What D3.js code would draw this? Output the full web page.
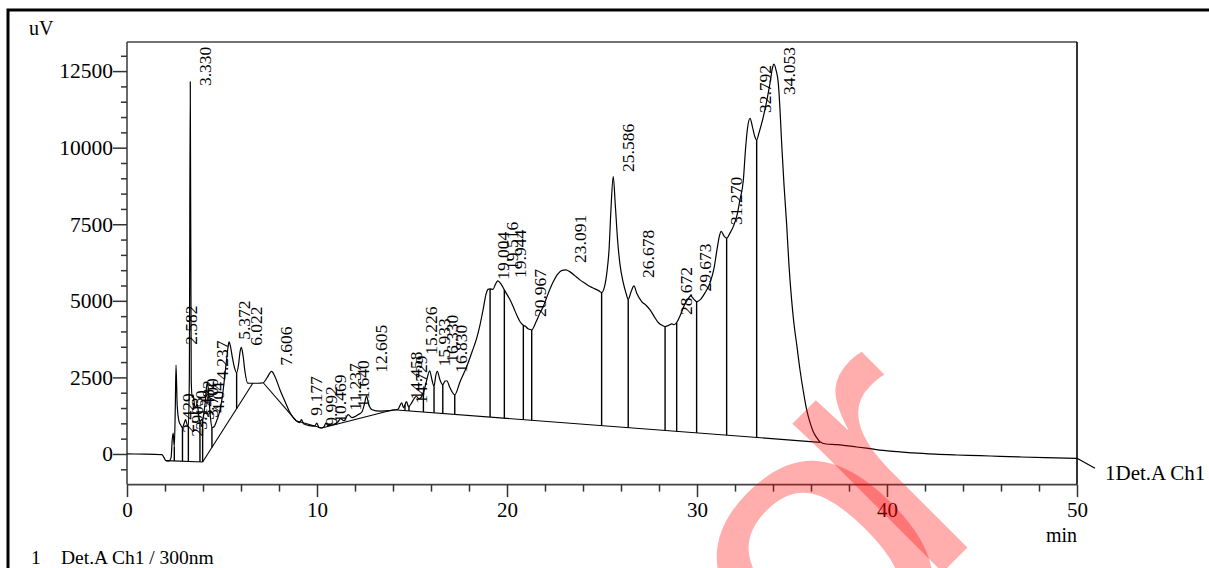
<!DOCTYPE html>
<html>
<head>
<meta charset="utf-8">
<script src="https://cdn.jsdelivr.net/npm/d3@7"></script>
<style>
html, body { margin: 0; padding: 0; background: #fff; }
svg { display: block; font-family: "Liberation Serif", "Times New Roman", serif; }
</style>
</head>
<body>
<svg id="chart" width="1209" height="568"></svg>
<script>
// --- Chromatogram trace (min, uV) ---
const timeMin = [
  0, 0.95, 1.84, 1.95, 2.05, 2.21, 2.32, 2.38, 2.43, 2.49,
  2.54, 2.58, 2.64, 2.74, 2.82, 2.92, 3.00, 3.08, 3.17, 3.23,
  3.28, 3.33, 3.38, 3.43, 3.48, 3.58, 3.70, 3.79, 3.84, 3.92,
  3.98, 4.04, 4.12, 4.18, 4.24, 4.30, 4.38, 4.47, 4.58, 4.74,
  4.90, 5.05, 5.21, 5.32, 5.37, 5.45, 5.55, 5.66, 5.77, 5.87,
  5.95, 6.02, 6.11, 6.21, 6.35, 6.58, 6.90, 7.17, 7.37, 7.61,
  7.79, 8.05, 8.32, 8.58, 8.90, 9.08, 9.18, 9.29, 9.63, 9.87,
  9.99, 10.11, 10.25, 10.37, 10.47, 10.58, 10.84, 11.11, 11.24, 11.42,
  11.64, 11.84, 12.16, 12.37, 12.50, 12.61, 12.71, 12.90, 13.32, 13.84,
  14.26, 14.46, 14.55, 14.71, 14.82, 14.95, 15.11, 15.23, 15.37, 15.60,
  15.74, 15.93, 16.05, 16.16, 16.25, 16.33, 16.47, 16.62, 16.73, 16.83,
  17.00, 17.25, 17.53, 17.88, 18.16, 18.41, 18.58, 18.75, 18.90, 19.00,
  19.11, 19.26, 19.40, 19.52, 19.68, 19.86, 19.95, 20.16, 20.33, 20.53,
  20.68, 20.86, 20.97, 21.11, 21.30, 21.53, 21.74, 21.91, 22.16, 22.44,
  22.68, 22.90, 23.09, 23.32, 23.58, 23.84, 24.11, 24.37, 24.63, 24.84,
  24.98, 25.13, 25.26, 25.37, 25.47, 25.59, 25.70, 25.82, 25.95, 26.11,
  26.26, 26.38, 26.53, 26.68, 26.84, 27.09, 27.32, 27.53, 27.74, 27.96,
  28.16, 28.32, 28.50, 28.67, 28.79, 28.93, 29.11, 29.32, 29.53, 29.67,
  29.82, 29.98, 30.16, 30.42, 30.68, 30.90, 31.05, 31.18, 31.27, 31.42,
  31.56, 31.74, 31.91, 32.11, 32.26, 32.44, 32.55, 32.66, 32.79, 32.92,
  33.05, 33.14, 33.26, 33.49, 33.68, 33.84, 33.97, 34.05, 34.16, 34.28,
  34.37, 34.46, 34.58, 34.72, 34.84, 34.98, 35.11, 35.25, 35.42, 35.60,
  35.77, 35.95, 36.12, 36.30, 36.47, 36.79, 37.35, 37.84, 38.41, 39.11,
  39.81, 40.58, 41.38, 42.53, 43.67, 44.89, 45.95, 47.00, 48.32, 50.00
];
const signalUV = [
  0, -5, -23, -121, -218, -228, -121, 466, 678, 238,
  1445, 2900, 1608, 1053, 955, 858, 988, 1119, 955, 890,
  2423, 12151, 2423, 1836, 1934, 1510, 1608, 1184, 1053, 1119,
  1086, 1314, 1706, 2162, 2325, 1934, 1282, 858, 890, 1119,
  1445, 2032, 2912, 3499, 3662, 3499, 3140, 2814, 2651, 2912,
  3336, 3483, 3206, 2684, 2315, 2309, 2309, 2325, 2488, 2694,
  2521, 2097, 1706, 1347, 1086, 1021, 1119, 988, 923, 907,
  1004, 858, 848, 890, 1004, 923, 955, 1053, 1151, 1086,
  1282, 1184, 1282, 1379, 1640, 1901, 1640, 1445, 1396, 1412,
  1461, 1673, 1510, 1706, 1542, 1640, 1803, 1885, 1803, 1999,
  2325, 2716, 2423, 2204, 2553, 2694, 2423, 2260, 2374, 2390,
  2162, 1934, 2358, 2857, 3336, 3793, 4217, 4738, 5227, 5374,
  5390, 5374, 5553, 5651, 5553, 5358, 5260, 5032, 4803, 4510,
  4324, 4200, 4168, 4086, 4053, 4314, 4608, 4813, 5227, 5628,
  5880, 5994, 6010, 5945, 5815, 5684, 5570, 5465, 5390, 5325,
  5270, 5456, 5945, 6662, 7967, 9059, 8130, 6988, 6173, 5619,
  5260, 5055, 5293, 5488, 5227, 4976, 4852, 4706, 4494, 4292,
  4200, 4161, 4200, 4249, 4223, 4292, 4510, 4836, 5064, 5162,
  5064, 4976, 5032, 5260, 5576, 6075, 6662, 7119, 7266, 7119,
  7044, 7217, 7422, 7804, 8293, 8945, 9923, 10641, 10957, 10673,
  10347, 10249, 10478, 11009, 11554, 12098, 12597, 12728, 12532, 12098,
  11228, 10088, 8783, 7479, 6174, 5032, 4217, 3564, 2749, 2032,
  1445, 1021, 727, 532, 401, 326, 303, 271, 228, 173,
  117, 75, 33, -7, -33, -55, -78, -98, -121, -143
];

// --- Integration baselines (start/end in min and uV) ---
const baseStartT = [2.05, 3.98, 7.17, 8.90, 10.25, 14.02];
const baseStartV = [-218, -261, 2325, 1086, 848, 1445];
const baseEndT   = [3.98, 6.63, 8.90, 10.25, 14.02, 36.47];
const baseEndV   = [-261, 2315, 1086, 848, 1445, 380];

// --- Peak boundaries (vertical drop lines) ---
const dropTimes = [2.49, 2.92, 3.23, 3.84, 3.98, 4.47, 5.77, 14.63, 14.84, 15.60,
  16.16, 16.62, 17.25, 19.11, 19.86, 20.86, 21.30, 24.98, 26.38, 28.32,
  28.93, 29.98, 31.56, 33.14];

// --- Retention time labels and the level (uV) where each label starts ---
const peakLabels = ["2.429", "2.582", "2.903", "3.150", "3.330", "3.482", "3.700", "4.04",
  "4.237", "5.372", "6.022", "7.606", "9.177", "9.992", "10.469", "11.237", "11.640",
  "12.605", "14.458", "14.729", "15.226", "15.933", "16.330", "16.830", "19.004",
  "19.516", "19.944", "20.967", "23.091", "25.586", "26.678", "28.672", "29.673",
  "31.270", "32.792", "34.053"];
const labelLevel = [695, 3564, 565, 793, 12010, 1118, 1185, 1347,
  2423, 3727, 3532, 2879, 1249, 923, 1020, 1412, 1510,
  2651, 1771, 1640, 3240, 2857, 2977, 2651, 5684,
  6010, 5749, 4468, 6238, 9206, 5749, 4534, 5302,
  7478, 11130, 11717];

// --- Axis ticks ---
const xTicks = [0, 10, 20, 30, 40, 50];
const yTicks = [0, 2500, 5000, 7500, 10000, 12500];

// --- Scales ---
const svg = d3.select("#chart");
const x = d3.scaleLinear().domain([0, 50]).range([127, 1077]);
const y = d3.scaleLinear().domain([-1000, 13450]).range([484.6, 42]);

// watermark (under the black print would look wrong, the scan has it on top; drawn last)

// outer frame (runs off the right and bottom edge of the page)
svg.append("rect")
  .attr("x", 8).attr("y", 10).attr("width", 1230).attr("height", 620)
  .attr("fill", "none").attr("stroke", "#000").attr("stroke-width", 3);

// plot box
const box = svg.append("g").attr("stroke", "#444").attr("stroke-width", 1.6);
box.append("line").attr("x1", x(0)).attr("x2", x(50)).attr("y1", y.range()[1]).attr("y2", y.range()[1]);
box.append("line").attr("x1", x(0)).attr("x2", x(50)).attr("y1", y.range()[0]).attr("y2", y.range()[0]);
box.append("line").attr("x1", x(0)).attr("x2", x(0)).attr("y1", y.range()[0]).attr("y2", y.range()[1]);
box.append("line").attr("x1", x(50)).attr("x2", x(50)).attr("y1", y.range()[0]).attr("y2", y.range()[1]).attr("stroke", "#000");

// --- Axes ---
function styleAxis(g, size) {
  g.select(".domain").remove();
  g.attr("font-family", null).attr("font-size", size);
  g.selectAll(".tick line").attr("stroke", "#333").attr("stroke-width", 1.5);
  g.selectAll(".tick text").attr("fill", "#000");
}

svg.append("g")
  .attr("transform", `translate(0,${y.range()[0]})`)
  .call(d3.axisBottom(x).tickValues(d3.range(0, 50.1, 2).filter(d => d % 10 !== 0)).tickSize(7).tickFormat(""))
  .call(g => styleAxis(g, 21));

svg.append("g")
  .attr("transform", `translate(0,${y.range()[0]})`)
  .call(d3.axisBottom(x).tickValues(xTicks).tickSize(12.5).tickPadding(5).tickFormat(d3.format("d")))
  .call(g => styleAxis(g, 21));

svg.append("g")
  .attr("transform", `translate(${x(0)},0)`)
  .call(d3.axisLeft(y).tickValues(d3.range(-500, 13001, 500).filter(d => d % 2500 !== 0)).tickSize(6).tickFormat(""))
  .call(g => styleAxis(g, 21));

svg.append("g")
  .attr("transform", `translate(${x(0)},0)`)
  .call(d3.axisLeft(y).tickValues(yTicks).tickSize(14).tickPadding(0).tickFormat(d3.format("d")))
  .call(g => styleAxis(g, 21.5));

svg.append("text").attr("x", 29).attr("y", 35).attr("font-size", 20).text("uV");
svg.append("text").attr("x", x(50)).attr("y", 541.7).attr("text-anchor", "end").attr("font-size", 20).text("min");

// --- Trace ---
const trace = timeMin.map((t, i) => ({ t: t, v: signalUV[i] }));

function valueAt(t) {
  const i = d3.bisectLeft(timeMin, t);
  if (i <= 0) return signalUV[0];
  if (i >= timeMin.length) return signalUV[signalUV.length - 1];
  const f = (t - timeMin[i - 1]) / (timeMin[i] - timeMin[i - 1]);
  return signalUV[i - 1] + f * (signalUV[i] - signalUV[i - 1]);
}

function baselineAt(t) {
  for (let k = 0; k < baseStartT.length; k++) {
    if (t >= baseStartT[k] && t <= baseEndT[k]) {
      const f = (t - baseStartT[k]) / (baseEndT[k] - baseStartT[k]);
      return baseStartV[k] + f * (baseEndV[k] - baseStartV[k]);
    }
  }
  return valueAt(t);
}

const marks = svg.append("g").attr("stroke", "#000").attr("fill", "none");

// baselines
baseStartT.forEach((t, k) => {
  marks.append("line")
    .attr("x1", x(t)).attr("y1", y(baseStartV[k]))
    .attr("x2", x(baseEndT[k])).attr("y2", y(baseEndV[k]))
    .attr("stroke-width", 1.1);
});

// drop lines
dropTimes.forEach(t => {
  marks.append("line")
    .attr("x1", x(t)).attr("x2", x(t))
    .attr("y1", y(valueAt(t))).attr("y2", y(baselineAt(t)))
    .attr("stroke-width", 1.4);
});

const line = d3.line().x(d => x(d.t)).y(d => y(d.v)).curve(d3.curveMonotoneX);
marks.append("path").datum(trace).attr("d", line).attr("stroke-width", 1.2);

// channel tag at the end of the trace
const last = trace[trace.length - 1];
marks.append("line")
  .attr("x1", x(last.t)).attr("y1", y(last.v))
  .attr("x2", x(last.t) + 18).attr("y2", y(last.v) + 10)
  .attr("stroke-width", 1.2);
svg.append("text").attr("x", 1105).attr("y", 480).attr("font-size", 21).text("1Det.A Ch1");

// --- Peak labels ---
svg.append("g").selectAll("text")
  .data(peakLabels)
  .join("text")
  .attr("transform", (d, i) => `translate(${x(parseFloat(d)) + 20.5},${y(labelLevel[i])}) rotate(-90)`)
  .attr("font-size", 17.5)
  .text(d => d);

// footer
svg.append("text").attr("x", 31).attr("y", 564).attr("font-size", 19.5).text("1");
svg.append("text").attr("x", 61).attr("y", 564).attr("font-size", 19.5).text("Det.A Ch1 / 300nm");

// watermark, two glyphs placed on the same diagonal
const mark = svg.append("g")
  .attr("transform", "translate(766,749) rotate(-45)")
  .attr("font-family", "Liberation Sans, Arial, sans-serif")
  .attr("font-size", 400)
  .attr("fill", "#ff0000")
  .attr("fill-opacity", 0.32)
  .attr("pointer-events", "none");
mark.append("text").attr("x", 57).attr("y", 21).text("o");
mark.append("text").attr("x", 222).attr("y", 0).text("r");
</script>
</body>
</html>
